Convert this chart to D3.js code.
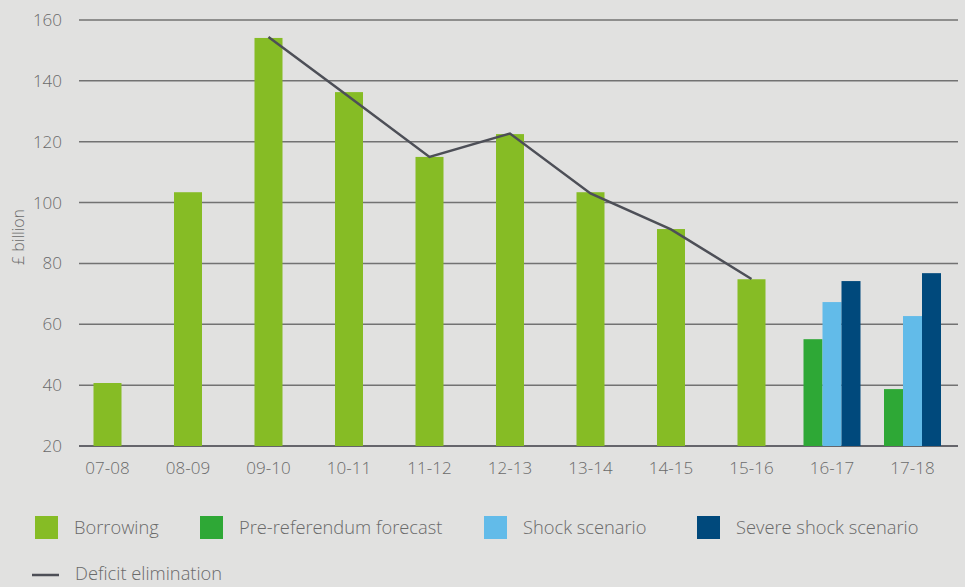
<!DOCTYPE html>
<html>
<head>
<meta charset="utf-8">
<script src="https://cdn.jsdelivr.net/npm/d3@7"></script>
<style>
  body { margin: 0; background: #e1e1e0; }
  text { font-family: "Open Sans", sans-serif; font-weight: 300; fill: #6a6a6a; }
</style>
</head>
<body>
<div id="chart-area"></div>
<script>
var width = 965;
var height = 587;

// data
var years = ["07-08", "08-09", "09-10", "10-11", "11-12", "12-13", "13-14", "14-15", "15-16", "16-17", "17-18"];
var borrowing = [40.7, 103.4, 154.1, 136.3, 115, 122.5, 103.4, 91.3, 74.8, null, null];
var preReferendum = [null, null, null, null, null, null, null, null, null, 55.1, 38.7];
var shock = [null, null, null, null, null, null, null, null, null, 67.3, 62.7];
var severeShock = [null, null, null, null, null, null, null, null, null, 74.2, 76.8];
var deficitElimination = [null, null, 154.4, 134.8, 115, 122.7, 103, 91.2, 74.9, null, null];
var yTicks = [20, 40, 60, 80, 100, 120, 140, 160];

var colors = {
    borrowing: "#86bc25",
    pre: "#2ea836",
    shock: "#62bbe9",
    severe: "#00497c",
    line: "#4d4f57"
};

var svg = d3.select("#chart-area").append("svg")
    .attr("width", width)
    .attr("height", height);

var x = d3.scaleBand()
    .domain(years)
    .range([67.25, 952.75]);

var y = d3.scaleLinear()
    .domain([20, 160])
    .range([446, 20]);

// gridlines
svg.append("g")
    .selectAll("line")
    .data(yTicks)
    .enter()
    .append("line")
    .attr("x1", 79)
    .attr("x2", 958)
    .attr("y1", function(d){ return y(d); })
    .attr("y2", function(d){ return y(d); })
    .attr("stroke", function(d){ return d == 20 ? "#3b3b45" : "#727272"; })
    .attr("stroke-width", 1.5);

// y axis labels
var yAxis = d3.axisLeft(y)
    .tickValues(yTicks)
    .tickSize(0)
    .tickPadding(0);

svg.append("g")
    .attr("transform", "translate(62,0)")
    .call(yAxis)
    .call(function(g){ g.select(".domain").remove(); })
    .selectAll("text")
    .attr("font-size", 17)
    .attr("font-family", null)
    .attr("fill", null);

// x axis labels
var xAxis = d3.axisBottom(x)
    .tickSize(0)
    .tickPadding(0);

svg.append("g")
    .attr("transform", "translate(0,462)")
    .call(xAxis)
    .call(function(g){ g.select(".domain").remove(); })
    .selectAll("text")
    .attr("font-size", 17)
    .attr("font-family", null)
    .attr("fill", null);

// y title
svg.append("text")
    .text("£ billion")
    .attr("transform", "translate(24,237) rotate(-90)")
    .attr("text-anchor", "middle")
    .attr("font-size", 16);

// borrowing bars
var barW = 28;
svg.append("g")
    .selectAll("rect")
    .data(years.map(function(d, i){ return {year: d, v: borrowing[i]}; }).filter(function(d){ return d.v != null; }))
    .enter()
    .append("rect")
    .attr("x", function(d){ return x(d.year) + x.bandwidth()/2 - barW/2; })
    .attr("y", function(d){ return y(d.v); })
    .attr("width", barW)
    .attr("height", function(d){ return y(20) - y(d.v); })
    .attr("fill", colors.borrowing);

// forecast groups
var series = [
    {key: "pre", values: preReferendum},
    {key: "shock", values: shock},
    {key: "severe", values: severeShock}
];
var groupW = 57;
var xSub = d3.scaleBand()
    .domain(series.map(function(s){ return s.key; }))
    .range([0, groupW]);

series.forEach(function(s){
    svg.append("g")
        .selectAll("rect")
        .data(years.map(function(d, i){ return {year: d, v: s.values[i]}; }).filter(function(d){ return d.v != null; }))
        .enter()
        .append("rect")
        .attr("x", function(d){ return x(d.year) + x.bandwidth()/2 - groupW/2 + xSub(s.key); })
        .attr("y", function(d){ return y(d.v); })
        .attr("width", xSub.bandwidth())
        .attr("height", function(d){ return y(20) - y(d.v); })
        .attr("fill", colors[s.key]);
});

// deficit elimination line
var lineData = years.map(function(d, i){ return {year: d, v: deficitElimination[i]}; }).filter(function(d){ return d.v != null; });
var line = d3.line()
    .x(function(d){ return x(d.year) + x.bandwidth()/2; })
    .y(function(d){ return y(d.v); });

svg.append("path")
    .attr("d", line(lineData))
    .attr("fill", "none")
    .attr("stroke", colors.line)
    .attr("stroke-width", 2.5);

// legend
var legendItems = [
    {label: "Borrowing", color: colors.borrowing, x: 35},
    {label: "Pre-referendum forecast", color: colors.pre, x: 200},
    {label: "Shock scenario", color: colors.shock, x: 484},
    {label: "Severe shock scenario", color: colors.severe, x: 697}
];

var legend = svg.append("g");
legendItems.forEach(function(item){
    legend.append("rect")
        .attr("x", item.x)
        .attr("y", 516)
        .attr("width", 23)
        .attr("height", 23)
        .attr("fill", item.color);
    legend.append("text")
        .text(item.label)
        .attr("x", item.x + 39)
        .attr("y", 534)
        .attr("font-size", 18.3);
});

legend.append("line")
    .attr("x1", 32)
    .attr("x2", 59)
    .attr("y1", 575)
    .attr("y2", 575)
    .attr("stroke", colors.line)
    .attr("stroke-width", 2.5);
legend.append("text")
    .text("Deficit elimination")
    .attr("x", 75)
    .attr("y", 580)
    .attr("font-size", 18.3);
</script>
</body>
</html>
